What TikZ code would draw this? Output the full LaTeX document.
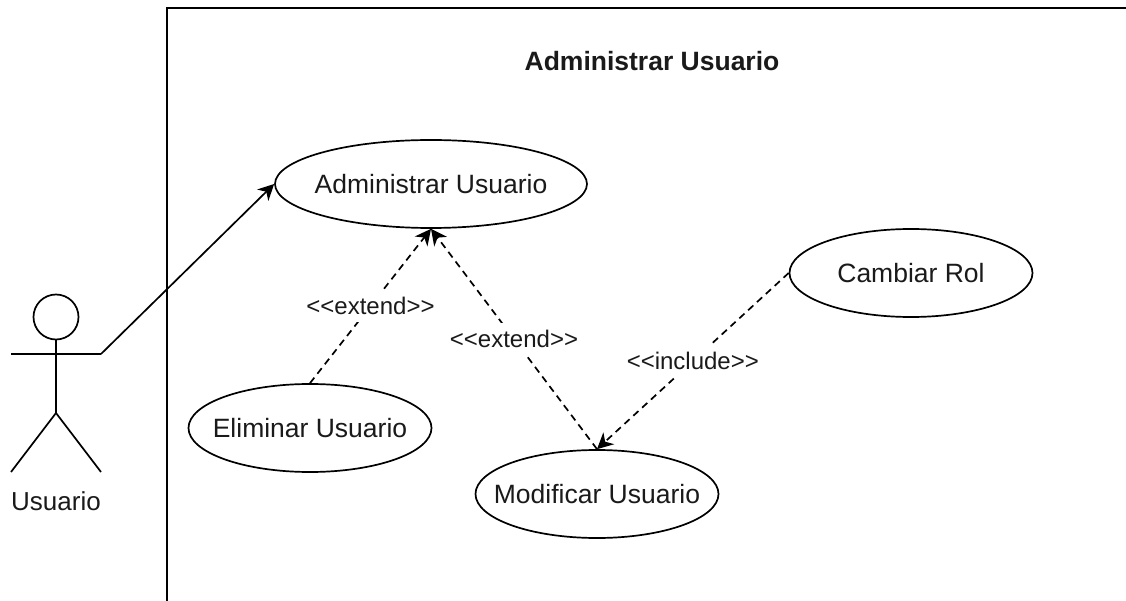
\documentclass[tikz,border=0pt]{standalone}
\usepackage{fontspec}
\setmainfont{Liberation Sans}
\usetikzlibrary{shapes.geometric,arrows.meta}
\definecolor{ink}{HTML}{1A1A1A}
\newcommand{\uctext}[1]{\makebox[0pt]{#1}}
\tikzset{
  px/.style={x=1pt,y=-1pt},
  uc/.style={draw=black,line width=1.7pt,ellipse,inner sep=0pt,text=ink,font=\fontsize{26.5}{30}\selectfont},
  rel/.style={draw=black,line width=1.7pt,dash pattern=on 7pt off 5pt,-{Stealth[length=16pt,width=16pt,inset=5pt]}},
  lbl/.style={fill=white,text=ink,inner sep=0pt,minimum height=32pt,font=\fontsize{24}{28}\selectfont},
  solidl/.style={draw=black,line width=1.7pt},
}
\begin{document}
\begin{tikzpicture}[px]
\useasboundingbox (0,0) rectangle (1126,601);
\fill[white] (0,0) rectangle (1126,601);
\coordinate (bt) at (1126,8);
\coordinate (bl) at (167,8);
\coordinate (bb) at (167,601);
\draw[solidl] (bt) -- (bl) -- (bb);
\node[text=ink,font=\bfseries\fontsize{26.5}{30}\selectfont] (title) at (652,61) {Administrar Usuario};
\node[uc,minimum width=312pt,minimum height=88pt] (admin) at (431,184) {\uctext{Administrar Usuario}};
\node[uc,minimum width=243pt,minimum height=88pt] (elim) at (310,428) {\uctext{Eliminar Usuario}};
\node[uc,minimum width=243pt,minimum height=88pt] (mod) at (597,494) {\uctext{Modificar Usuario}};
\node[uc,minimum width=243pt,minimum height=88pt] (rol) at (911,273) {\uctext{Cambiar Rol}};
\node[text=ink,font=\fontsize{26}{30}\selectfont] (uname) at (56,501) {Usuario};
% actor
\node[draw=black,line width=1.7pt,circle,minimum size=45pt,inner sep=0pt] (head) at (56,317) {};
\coordinate (hip) at (56,413);
\coordinate (armL) at (11,354);
\coordinate (armR) at (101,354);
\coordinate (legL) at (11,472);
\coordinate (legR) at (101,472);
\draw[solidl] (head.south) -- (hip);
\draw[solidl] (armL) -- (armR);
\draw[solidl] (legL) -- (hip) -- (legR);
\draw[solidl,-{Stealth[length=16pt,width=16pt,inset=5pt]}] (armR) -- (admin.west);
\draw[rel] (elim.north) -- (admin.south) node[pos=.5,lbl] (e1) {<{}<extend>{}>};
\draw[rel] (mod.north) -- (admin.south) node[pos=.5,lbl] (e2) {<{}<extend>{}>};
\draw[rel] (rol.west) -- (mod.north) node[pos=.5,lbl] (i1) {<{}<include>{}>};
\end{tikzpicture}
\end{document}
